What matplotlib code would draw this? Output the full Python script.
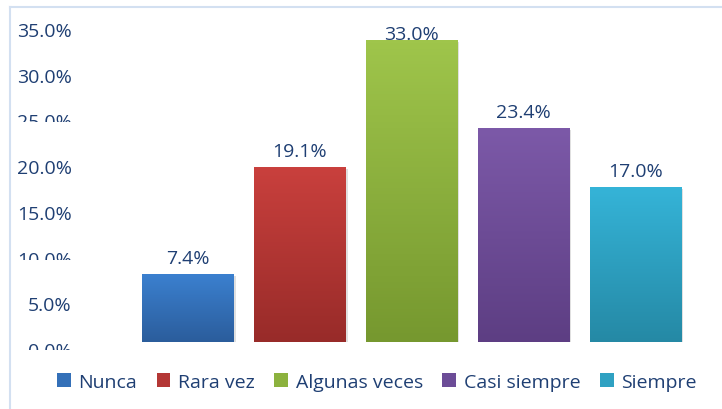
import numpy as np
import matplotlib
matplotlib.use("Agg")
import matplotlib.pyplot as plt
from matplotlib.patches import Patch
from matplotlib.transforms import Bbox
from matplotlib.ticker import PercentFormatter
import matplotlib.patheffects as pe

categories = ["Nunca", "Rara vez", "Algunas veces", "Casi siempre", "Siempre"]
values = [0.074, 0.191, 0.330, 0.234, 0.170]
labels = ["7.4%", "19.1%", "33.0%", "23.4%", "17.0%"]
top_colors = ["#3b80cf", "#c9403d", "#9fc54b", "#7c59a8", "#35b4d8"]
bottom_colors = ["#2b5d9c", "#982b29", "#76982f", "#5d3e83", "#2589a5"]
mid_colors = ["#3470b8", "#b43735", "#8cb23e", "#6c4c97", "#2fa1c2"]

text_color = "#1f3f73"
fs = 14
plt.rcParams['font.family'] = ['Open Sans', 'DejaVu Sans']

fig = plt.figure(figsize=(7.22, 4.10), dpi=100)
ax = fig.add_axes([80 / 722, 67 / 410, 612 / 722, 320 / 410])

x = np.arange(len(categories))
bars = ax.bar(x, values, width=0.815, color=mid_colors, zorder=2)
ax.set_xlim(-0.966, 4.505)
ax.set_ylim(0, 0.35)

# gradient fill + soft shadow
for b, ct, cb in zip(bars, top_colors, bottom_colors):
    b.set_path_effects([pe.SimplePatchShadow(offset=(1.5, -1.5), alpha=0.12, shadow_rgbFace="black"), pe.Normal()])
    c1 = np.array(matplotlib.colors.to_rgb(ct))
    c2 = np.array(matplotlib.colors.to_rgb(cb))
    t = np.linspace(0, 1, 100)[:, None]
    grad = (c1 * (1 - t) + c2 * t)[:, None, :]
    im = ax.imshow(grad, extent=[b.get_x(), b.get_x() + b.get_width(), 0, b.get_height()],
                   aspect="auto", origin="upper", zorder=3)
    im.set_clip_path(b)

ytop = ax.get_ylim()[1]
for xi, v, lab in zip(x, values, labels):
    if v > ytop - 0.03:
        # no room above: label pushed down onto the bar top
        ax.annotate(lab, (xi, ytop), xytext=(0, -2), textcoords="offset points",
                    ha="center", va="top", fontsize=fs, color=text_color, zorder=5)
    else:
        ax.annotate(lab, (xi, v), xytext=(0, 5), textcoords="offset points",
                    ha="center", va="bottom", fontsize=fs, color=text_color, zorder=5)

ax.set_yticks(np.arange(0, 0.351, 0.05))
ax.yaxis.set_major_formatter(PercentFormatter(1, decimals=1))
ax.tick_params(axis="y", length=0, labelsize=fs, labelcolor=text_color, pad=6)
ax.set_xticks([])
for s in ax.spines.values():
    s.set_visible(False)
for tl in ax.get_yticklabels():
    tl.set_va("top")

handles = [Patch(facecolor=c) for c in mid_colors]
fig.legend(handles, categories, loc="center", bbox_to_anchor=(377 / 722, 27 / 410),
           ncol=5, frameon=False, fontsize=fs, labelcolor=text_color,
           handlelength=0.7, handleheight=0.7, handletextpad=0.4, columnspacing=1.0)

# chart frame
fig.add_artist(plt.Line2D([10 / 722, 10 / 722], [0, 402 / 410], color="#d3e0f1", lw=1.5))
fig.add_artist(plt.Line2D([10 / 722, 1], [402 / 410, 402 / 410], color="#d3e0f1", lw=1.5))

# some tick labels are cut off in the original: keep only their upper part
fig.canvas.draw()
r = fig.canvas.get_renderer()
keep = {0.25: 0.45, 0.10: 0.5, 0.0: 0.45}
for tv, tl in zip(ax.get_yticks(), ax.get_yticklabels()):
    for k, frac in keep.items():
        if abs(tv - k) < 1e-6:
            ext = tl.get_window_extent(r)
            ybot = ext.y1 - frac * ext.height
            tl.set_clip_box(Bbox([[0, ybot], [722, 410]]))
            tl.set_clip_on(True)

fig.savefig("out.png", dpi=100)
